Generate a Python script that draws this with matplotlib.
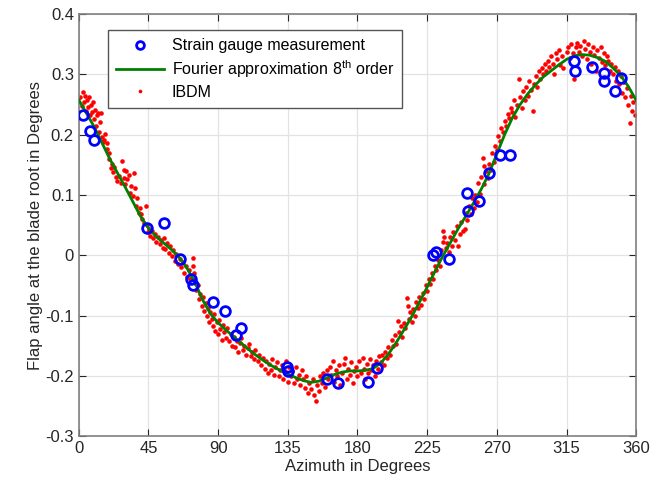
import matplotlib
matplotlib.use("Agg")
import matplotlib.pyplot as plt
from matplotlib.ticker import FormatStrFormatter

plt.rcParams['font.family'] = ['Liberation Sans', 'DejaVu Sans']
plt.rcParams['mathtext.fontset'] = 'custom'
plt.rcParams['mathtext.rm'] = 'Liberation Sans'
plt.rcParams['axes.unicode_minus'] = False

# strain gauge measurements (azimuth deg, flap angle deg)
sg_az = [2.6, 7.1, 9.7, 44.0, 55.0, 65.5, 72.5, 74.0, 86.6, 94.4, 104.7, 101.5,
         134.5, 135.0, 160.0, 167.5, 186.5, 192.5, 229.0, 230.5, 239.0,
         251.0, 251.5, 258.5, 265.0, 272.0, 278.6, 320.0, 320.8, 331.5,
         339.0, 339.3, 346.5, 350.0]
sg_val = [0.232, 0.206, 0.192, 0.045, 0.053, -0.007, -0.040, -0.050, -0.078,
          -0.093, -0.121, -0.133, -0.186, -0.192, -0.206, -0.212, -0.210,
          -0.187, 0.000, 0.005, -0.007, 0.104, 0.073, 0.090, 0.136, 0.167,
          0.166, 0.322, 0.305, 0.312, 0.302, 0.289, 0.272, 0.295]

# Fourier approximation (8th order)
fit_az = [0, 10, 20, 30, 40, 45, 50, 55, 60, 65, 70, 75, 80, 85, 90, 95, 100,
          105, 110, 115, 120, 125, 130, 135, 140, 145, 150, 155, 160, 165, 170,
          175, 180, 185, 190, 195, 200, 205, 210, 215, 220, 225, 230, 235, 240,
          245, 250, 255, 260, 265, 270, 275, 280, 285, 290, 295, 300, 305, 310,
          315, 320, 325, 330, 335, 340, 345, 350, 355, 360]
fit_val = [0.258, 0.213, 0.160, 0.113, 0.064, 0.045, 0.031, 0.020, 0.009,
           -0.004, -0.022, -0.045, -0.074, -0.097, -0.112, -0.124, -0.135,
           -0.146, -0.157, -0.167, -0.176, -0.184, -0.191, -0.197, -0.203,
           -0.208, -0.211, -0.209, -0.204, -0.198, -0.194, -0.192, -0.192,
           -0.191, -0.188, -0.179, -0.164, -0.145, -0.124, -0.102, -0.078,
           -0.053, -0.027, -0.002, 0.021, 0.044, 0.065, 0.087, 0.110, 0.136,
           0.168, 0.200, 0.228, 0.250, 0.268, 0.283, 0.296, 0.306, 0.316,
           0.325, 0.331, 0.333, 0.332, 0.328, 0.322, 0.311, 0.298, 0.280, 0.257]

# IBDM estimates
ibdm_az = [1.0, 1.8, 2.5, 3.2, 4.0, 4.5, 5.2, 5.8, 6.5, 7.0, 7.6, 8.3, 9.0, 9.6, 10.2,
           10.8, 11.5, 12.1, 12.8, 13.5, 14.2, 15.0, 15.8, 16.4, 17.2, 18.0, 18.5, 19.3, 19.8,
           20.7, 21.5, 22.3, 23.0, 24.1, 25.0, 26.2, 27.3, 28.2, 28.9, 29.3, 30.0,
           30.4, 31.2, 32.5, 33.1, 34.0, 35.0, 35.7, 36.3, 37.2, 37.9, 38.8, 39.5, 40.1,
           41.0, 42.2, 43.3, 43.8, 44.5, 45.3, 46.2, 47.0, 48.0, 49.0, 50.1,
           51.0, 52.2, 53.0, 54.1, 55.0, 56.0, 57.2, 58.0, 59.0, 60.0,
           61.0, 62.2, 63.0, 64.0, 65.2, 66.0, 67.0, 68.2, 69.0, 70.0,
           71.0, 72.0, 73.5, 73.9, 74.2, 74.6, 75.0,
           76.0, 77.0, 77.8, 78.5, 79.3, 80.2, 81.0, 82.0, 82.8, 83.5, 84.3, 85.0,
           86.0, 86.8, 87.5, 88.3, 89.0, 90.0, 90.7, 91.5, 92.3, 93.0, 94.0, 95.0,
           96.0, 97.0, 98.0, 99.0,
           100.0, 101.0, 102.0, 103.0, 104.0, 105.0, 106.0, 107.0, 108.0, 109.0, 110.0,
           111.0, 112.0, 113.0, 114.0, 115.5, 116.5, 118.0, 119.0,
           120.0, 121.0, 122.0, 123.0, 124.0, 125.0, 126.0, 127.0, 128.0, 129.0, 130.0,
           131.0, 132.0, 133.0, 134.0, 135.0, 136.0,
           137.0, 138.0, 139.0, 140.0, 141.0, 142.0, 143.0, 144.0, 145.0, 146.0, 147.0,
           148.0, 149.0, 150.0, 151.0, 152.0, 153.0, 154.0, 155.0, 156.0, 157.0, 158.0,
           159.0, 160.0,
           161.0, 162.0, 163.0, 164.0, 165.0, 166.0, 167.0, 168.0, 169.0, 170.0, 171.0,
           172.0, 173.0, 174.0, 175.0, 176.0, 177.0, 178.0, 179.0, 180.0, 181.0, 182.0,
           183.5, 184.0, 185.0, 186.0, 187.0, 188.0, 189.0, 190.0, 191.0, 192.0, 193.0, 194.0,
           195.0, 196.0, 197.0, 198.0, 199.0, 200.0, 201.0, 202.0, 203.0, 204.0, 205.0,
           206.0, 207.0, 208.0, 209.0, 210.0, 211.0, 211.8, 212.5, 213.0, 214.0, 215.0,
           216.0, 217.0, 218.0, 219.0, 220.0, 221.0, 222.0, 223.0, 224.0,
           225.0, 226.0, 227.0, 228.0, 229.0, 230.0, 231.0, 232.0, 233.0, 234.0, 235.0,
           235.5, 236.2, 237.0, 238.0, 239.0, 240.0, 241.0, 242.0, 243.0, 244.0, 245.0,
           246.0, 247.0, 248.0, 249.5, 250.0, 251.0, 252.0, 253.0, 254.0, 255.0, 256.0,
           257.0, 258.0, 259.0, 260.0, 261.0, 261.5,
           262.0, 263.0, 264.0, 265.0, 266.0, 267.0, 268.0, 269.0, 270.0, 271.0, 272.0,
           273.0, 274.0, 275.0, 276.0, 277.0, 278.0, 279.0, 280.0, 281.0, 282.0, 283.0,
           284.4, 285.0, 286.0, 287.0, 288.0, 289.0, 290.0, 291.0, 292.0, 293.4, 294.0,
           295.0, 296.0, 297.0, 298.0, 299.0, 300.0,
           301.0, 302.0, 303.0, 304.0, 305.0, 306.0, 307.0, 308.0, 309.0, 310.0, 311.0,
           312.0, 313.0, 315.0, 316.0, 317.0, 318.0, 319.0, 320.0, 321.0, 322.0, 323.0,
           324.0, 325.0, 326.0, 327.0, 328.0, 329.0, 330.0, 331.0, 332.0, 333.0, 334.0,
           335.0, 336.0, 337.0, 338.0, 339.0, 340.0, 341.0, 342.0, 343.0, 344.0,
           345.0, 346.0, 347.0, 348.0, 349.0, 350.0, 351.0, 352.0, 353.0, 354.0, 355.0,
           356.0, 356.5, 357.0, 358.0, 359.0]
ibdm_val = [0.262, 0.248, 0.271, 0.255, 0.265, 0.240, 0.258, 0.246, 0.262, 0.232, 0.250, 0.238, 0.255, 0.226, 0.241,
            0.215, 0.232, 0.236, 0.205, 0.221, 0.236, 0.196, 0.188, 0.192, 0.201, 0.176, 0.186, 0.160, 0.170,
            0.145, 0.152, 0.138, 0.147, 0.130, 0.124, 0.131, 0.120, 0.157, 0.142, 0.128, 0.118,
            0.139, 0.126, 0.134, 0.104, 0.115, 0.098, 0.137, 0.112, 0.082, 0.095, 0.070, 0.078, 0.068,
            0.060, 0.053, 0.081, 0.051, 0.038, 0.044, 0.032, 0.040, 0.028, 0.035, 0.022,
            0.030, 0.018, 0.026, 0.012, 0.028, 0.010, 0.020, 0.004, 0.015, -0.002,
            0.008, -0.010, 0.002, -0.015, -0.006, -0.020, -0.012, -0.030, -0.018, -0.036,
            -0.025, -0.040, -0.005, -0.018, -0.030, -0.040, -0.046,
            -0.058, -0.050, -0.072, -0.064, -0.085, -0.070, -0.092, -0.080, -0.101, -0.088, -0.110, -0.094,
            -0.105, -0.118, -0.098, -0.125, -0.110, -0.130, -0.108, -0.122, -0.140, -0.115, -0.128, -0.138,
            -0.120, -0.142, -0.130, -0.150,
            -0.136, -0.152, -0.142, -0.160, -0.146, -0.138, -0.158, -0.150, -0.165, -0.154, -0.148,
            -0.168, -0.160, -0.172, -0.158, -0.175, -0.165, -0.182, -0.170,
            -0.188, -0.175, -0.195, -0.180, -0.190, -0.172, -0.198, -0.185, -0.178, -0.200, -0.190,
            -0.182, -0.205, -0.192, -0.176, -0.210, -0.185,
            -0.200, -0.192, -0.212, -0.185, -0.205, -0.198, -0.215, -0.190, -0.205, -0.220, -0.200,
            -0.228, -0.212, -0.222, -0.205, -0.232, -0.242, -0.215, -0.225, -0.200, -0.212, -0.195,
            -0.218, -0.190,
            -0.205, -0.185, -0.198, -0.176, -0.210, -0.190, -0.200, -0.182, -0.215, -0.195, -0.180,
            -0.170, -0.205, -0.188, -0.198, -0.178, -0.212, -0.192, -0.185, -0.200, -0.176, -0.195,
            -0.171, -0.188, -0.205, -0.180, -0.196, -0.172, -0.190, -0.182, -0.200, -0.176, -0.188, -0.168,
            -0.178, -0.165, -0.182, -0.160, -0.170, -0.152, -0.165, -0.140, -0.150, -0.132, -0.148,
            -0.109, -0.128, -0.118, -0.135, -0.112, -0.120, -0.071, -0.085, -0.105, -0.095, -0.110,
            -0.090, -0.100, -0.078, -0.088, -0.070, -0.082, -0.062, -0.072, -0.050,
            -0.060, -0.040, -0.048, -0.030, -0.040, -0.018, -0.025, -0.008, -0.018, 0.008, 0.022,
            0.040, 0.030, 0.012, 0.020, 0.005, 0.030, 0.015, 0.038, 0.025, 0.048, 0.015,
            0.035, 0.055, 0.040, 0.043, 0.070, 0.058, 0.082, 0.068, 0.095, 0.078, 0.100,
            0.088, 0.120, 0.102, 0.130, 0.161, 0.148,
            0.118, 0.140, 0.128, 0.152, 0.142, 0.170, 0.155, 0.182, 0.175, 0.198, 0.190,
            0.212, 0.205, 0.222, 0.215, 0.235, 0.228, 0.245, 0.238, 0.258, 0.230, 0.250,
            0.292, 0.262, 0.245, 0.272, 0.258, 0.280, 0.265, 0.290, 0.275, 0.239, 0.285,
            0.298, 0.280, 0.305, 0.292, 0.310, 0.300,
            0.318, 0.305, 0.322, 0.312, 0.330, 0.318, 0.300, 0.335, 0.325, 0.340, 0.315,
            0.330, 0.310, 0.338, 0.345, 0.328, 0.350, 0.335, 0.292, 0.345, 0.352, 0.338,
            0.348, 0.330, 0.355, 0.342, 0.325, 0.350, 0.338, 0.318, 0.345, 0.332, 0.305,
            0.340, 0.328, 0.345, 0.320, 0.335, 0.315, 0.330, 0.322, 0.305, 0.318,
            0.300, 0.312, 0.290, 0.305, 0.285, 0.298, 0.270, 0.288, 0.262, 0.278, 0.250,
            0.219, 0.265, 0.240, 0.255, 0.232]

x_ticks = [0, 45, 90, 135, 180, 225, 270, 315, 360]
y_ticks = [-0.3, -0.2, -0.1, 0, 0.1, 0.2, 0.3, 0.4]

fig = plt.figure(figsize=(6.62, 4.91), dpi=100)
ax = fig.add_axes([0.119, 0.112, 0.842, 0.859])

ax.plot(sg_az, sg_val, 'o', mfc='none', mec='#0000ff', mew=2, ms=7,
        label='Strain gauge measurement', zorder=4)
ax.plot(fit_az, fit_val, '-', color='#008000', lw=2,
        label=r'Fourier approximation 8$^{\mathrm{th}}$ order', zorder=3)
ax.plot(ibdm_az, ibdm_val, 'o', color='#ff0000', mec='none', ms=3.3,
        label='IBDM', zorder=2)

ax.set_xlim(0, 360)
ax.set_ylim(-0.3, 0.4)
ax.set_xticks(x_ticks)
ax.set_yticks(y_ticks)
ax.yaxis.set_major_formatter(FormatStrFormatter('%g'))
ax.grid(True, color='#e3e3e3', lw=0.9)
ax.set_axisbelow(True)
ax.tick_params(direction='in', top=True, right=True, length=5,
               labelsize=12, colors='#262626', width=0.8)
for s in ax.spines.values():
    s.set_color('#808080')
    s.set_linewidth(1.2)
ax.set_xlabel('Azimuth in Degrees', fontsize=12, color='#262626', labelpad=2)
ax.set_ylabel('Flap angle at the blade root in Degrees', fontsize=12,
              color='#262626', labelpad=2)

leg = ax.legend(loc='upper left', bbox_to_anchor=(0.052, 0.962), borderaxespad=0,
                fontsize=11.5, fancybox=False, framealpha=1, edgecolor='#555555',
                handlelength=3.0, labelspacing=0.3, borderpad=0.5, handletextpad=0.5,
                markerscale=0.8)
leg.get_frame().set_linewidth(1.0)

fig.savefig('out.png', dpi=100)
